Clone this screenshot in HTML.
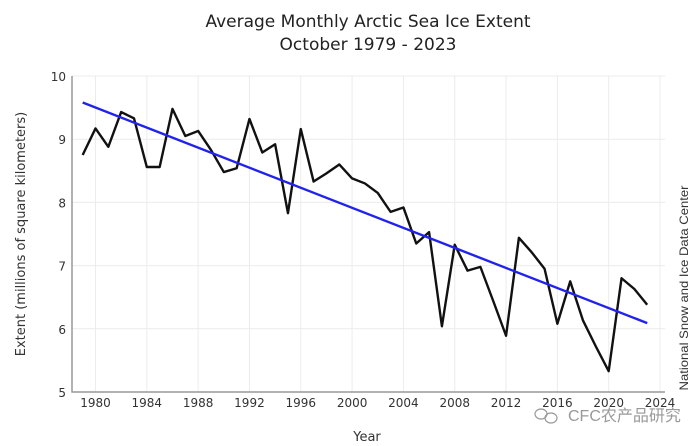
<!DOCTYPE html>
<html><head><meta charset="utf-8"><style>
body{margin:0;background:#fff;}
svg{display:block;font-family:"DejaVu Sans","Liberation Sans",sans-serif;}
</style></head><body>
<svg id="chart" width="700" height="446">
<text x="368" y="27" text-anchor="middle" font-size="17" fill="#222">Average Monthly Arctic Sea Ice Extent</text>
<text x="368" y="50" text-anchor="middle" font-size="17" fill="#222">October 1979 - 2023</text>
<g id="grid"></g>
<g id="axes"></g>
<text transform="translate(25,234) rotate(-90)" text-anchor="middle" font-size="13" fill="#333">Extent (millions of square kilometers)</text>
<text x="367" y="441" text-anchor="middle" font-size="13" fill="#333">Year</text>
<text transform="translate(688,288) rotate(-90)" text-anchor="middle" font-size="12" fill="#333" font-family="'Liberation Sans',sans-serif" textLength="205" lengthAdjust="spacingAndGlyphs">National Snow and Ice Data Center</text>
<g fill="none" stroke="#999" stroke-width="1.2">
<ellipse cx="541" cy="414" rx="6" ry="5"/><ellipse cx="551" cy="418" rx="6" ry="5"/>
</g>
<text x="568" y="421" font-size="16" fill="#999" font-family="'Liberation Sans','Noto Sans CJK SC',sans-serif">CFC农产品研究</text>
<g id="marks"></g>
</svg>
<script>
const years=[1979,1980,1981,1982,1983,1984,1985,1986,1987,1988,1989,1990,1991,1992,1993,1994,1995,1996,1997,1998,1999,2000,2001,2002,2003,2004,2005,2006,2007,2008,2009,2010,2011,2012,2013,2014,2015,2016,2017,2018,2019,2020,2021,2022,2023];
const extent=[8.75,9.17,8.88,9.43,9.33,8.56,8.56,9.48,9.05,9.13,8.83,8.48,8.54,9.32,8.79,8.92,7.83,9.16,8.33,8.46,8.60,8.38,8.30,8.15,7.85,7.92,7.35,7.53,6.04,7.33,6.92,6.98,6.44,5.89,7.44,7.21,6.95,6.08,6.75,6.13,5.72,5.33,6.80,6.63,6.38];
const trendYears=[1979,2023];
const trendValues=[9.58,6.09];
const xTicks=[1980,1984,1988,1992,1996,2000,2004,2008,2012,2016,2020,2024];
const yTicks=[5,6,7,8,9,10];
const NS='http://www.w3.org/2000/svg';
const X=y=>95.5+(y-1980)*12.83;
const Y=v=>392-(v-5)*63.2;
function mk(t,a,p){const e=document.createElementNS(NS,t);for(const k in a)e.setAttribute(k,a[k]);p.appendChild(e);return e;}
const grid=document.getElementById('grid'),axes=document.getElementById('axes'),marks=document.getElementById('marks');
xTicks.forEach(t=>{
 const l=mk('line',{x1:X(t),x2:X(t),y1:76,y2:392,stroke:'#ececec','stroke-width':1},grid);
 
 
 const tx=mk('text',{x:X(t),y:407,'text-anchor':'middle','font-size':12,fill:'#333'},axes);
 tx.textContent=t;
 
 
});
yTicks.forEach(t=>{
 if(t>5){const l=mk('line',{x1:72,x2:665,y1:Y(t),y2:Y(t),stroke:'#ececec','stroke-width':1},grid);
 
 }
 const tx=mk('text',{x:66,y:Y(t)+5,'text-anchor':'end','font-size':12,fill:'#333'},axes);
 tx.textContent=t;
 
 
});
const ax=mk('polyline',{points:'72,76 72,392 665,392',fill:'none',stroke:'#999','stroke-width':1.5},axes);


const line=mk('polyline',{points:years.map((y,i)=>X(y)+','+Y(extent[i])).join(' '),fill:'none',stroke:'#111','stroke-width':2.4,'stroke-linejoin':'round'},marks);


const tr=mk('line',{x1:X(trendYears[0]),y1:Y(trendValues[0]),x2:X(trendYears[1]),y2:Y(trendValues[1]),stroke:'#2222ee','stroke-width':2.4},marks);


</script>
</body></html>
